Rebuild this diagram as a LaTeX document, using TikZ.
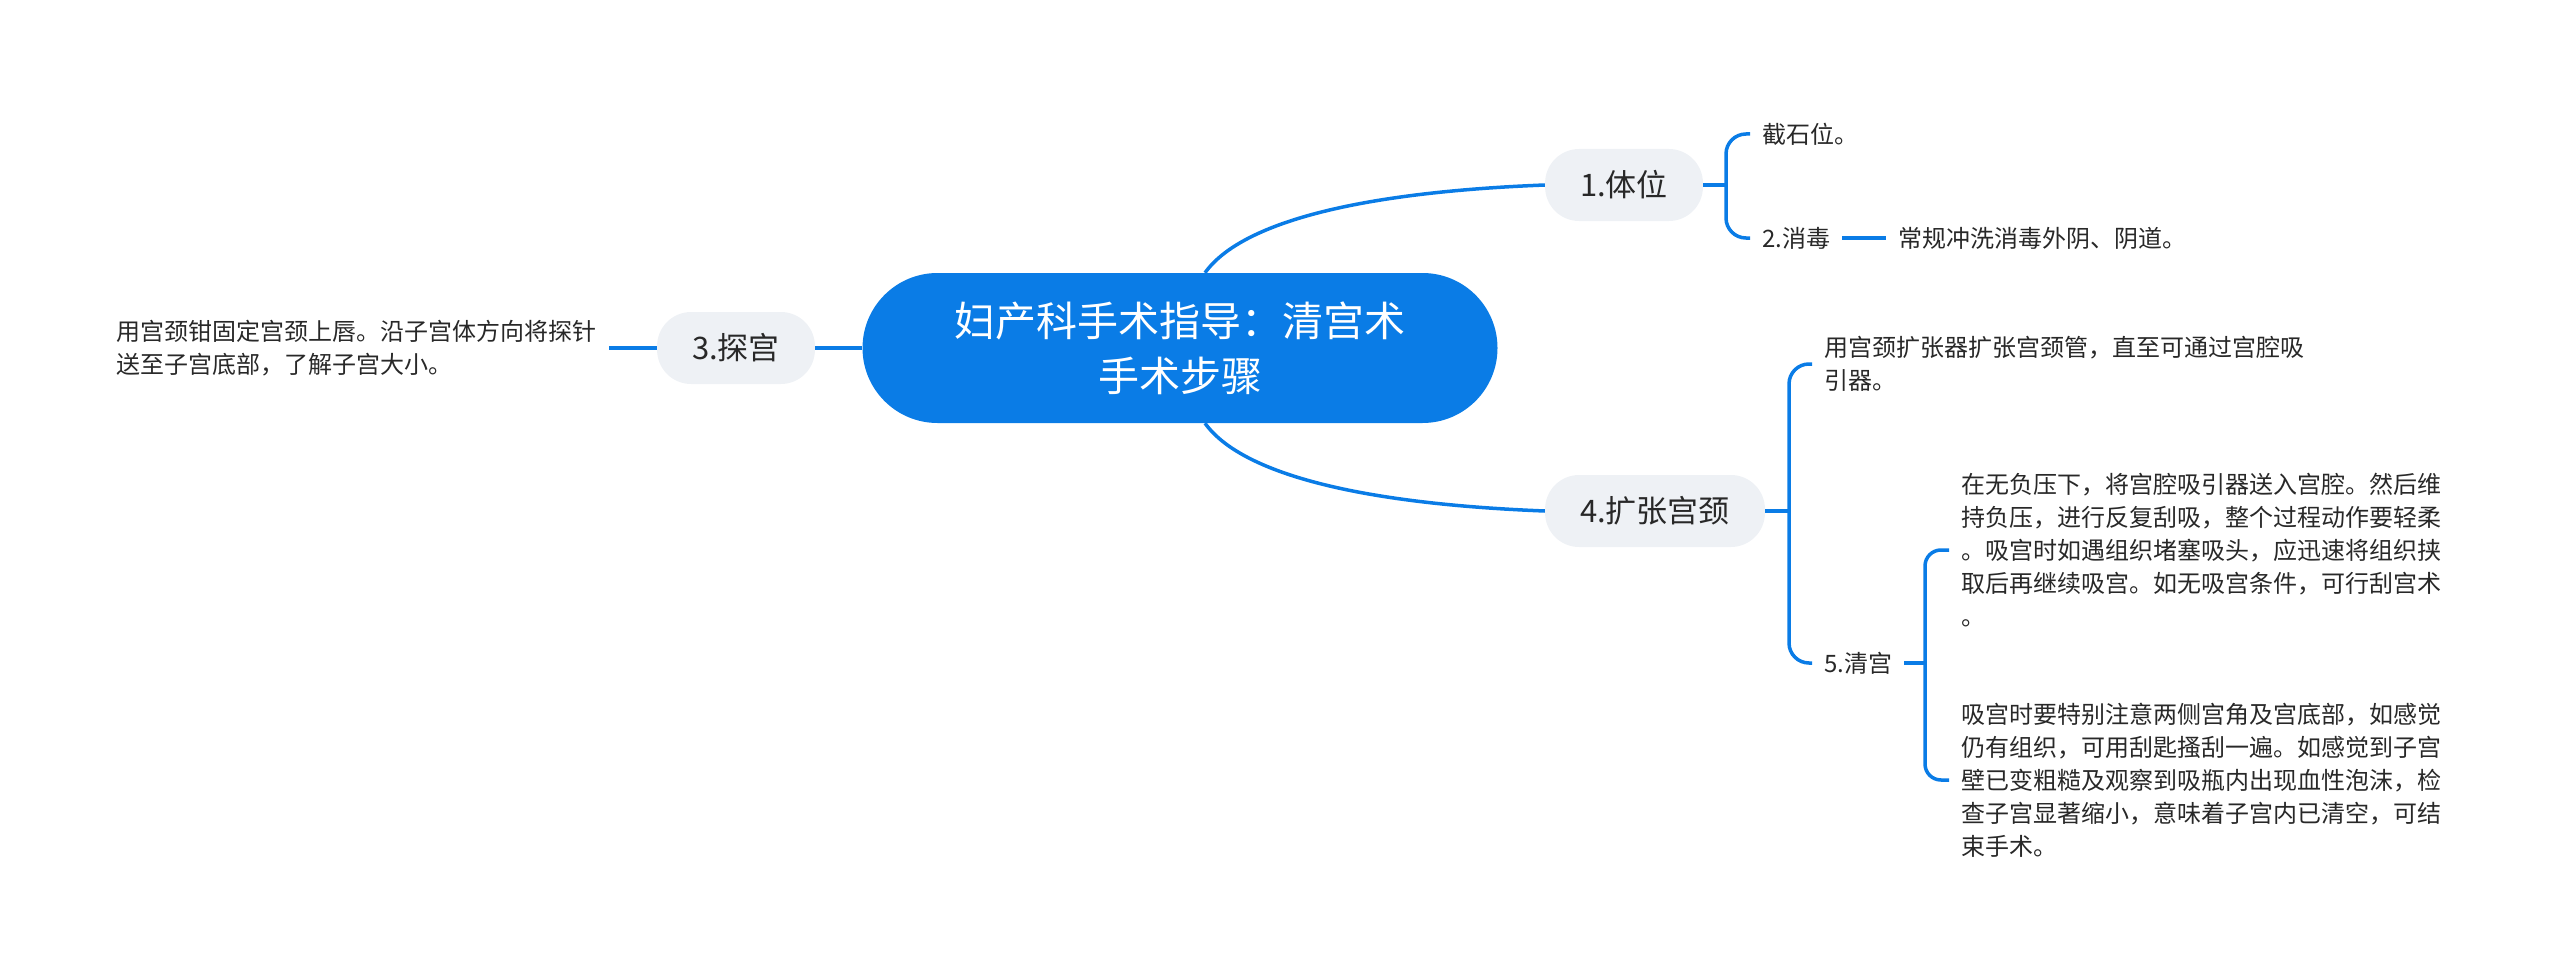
\documentclass[tikz,border=0pt]{standalone}
\usepackage{fontspec}
\setmainfont{Noto Sans CJK SC}
\usepackage{tikz}
\usetikzlibrary{positioning}

\definecolor{mapblue}{RGB}{10,124,230}
\definecolor{topicgray}{RGB}{238,241,245}
\definecolor{inkgray}{RGB}{40,40,40}

\begin{document}
\begin{tikzpicture}[x=1pt,y=-1pt]
    % one unit = one pixel of the 2560x971 sheet, y runs down
    \tikzstyle{root}=[rectangle,rounded corners=75pt,fill=mapblue,text=white,
    minimum width=635pt,minimum height=150pt,align=center,font=\fontsize{41}{55}\selectfont]
    \tikzstyle{topic}=[rectangle,rounded corners=34pt,fill=topicgray,text=inkgray,
    minimum height=72pt,inner xsep=35pt,font=\fontsize{31}{38}\selectfont]
    \tikzstyle{leaf}=[inner xsep=12pt,inner ysep=4pt,text=inkgray,align=left,
    font=\fontsize{24}{33}\selectfont]
    \tikzstyle{link}=[draw=mapblue,line width=3.5pt]

    \useasboundingbox (0,0) rectangle (2560,971);

    \node [root] (root) at (1180,348) {妇产科手术指导：清宫术\\手术步骤};

    \node [topic] (n1) at (1624,185) {1.体位};
    \node [topic] (n3) at (736,348) {3.探宫};
    \node [topic] (n4) at (1655,511) {4.扩张宫颈};

    \node [leaf,anchor=west] (l1) at (1750,134) {截石位。};
    \node [leaf,anchor=west] (l2) at (1750,238) {2.消毒};
    \node [leaf] (l2a) [right=44pt of l2] {常规冲洗消毒外阴、阴道。};
    \node [leaf] (l3) [left=48pt of n3] {用宫颈钳固定宫颈上唇。沿子宫体方向将探针\\送至子宫底部，了解子宫大小。};
    \node [leaf,anchor=west] (l4) at (1812,364) {用宫颈扩张器扩张宫颈管，直至可通过宫腔吸\\引器。};
    \node [leaf,anchor=west] (l5) at (1812,663) {5.清宫};
    \node [leaf,anchor=west] (l5a) at (1949,550) {在无负压下，将宫腔吸引器送入宫腔。然后维\\持负压，进行反复刮吸，整个过程动作要轻柔\\。吸宫时如遇组织堵塞吸头，应迅速将组织挟\\取后再继续吸宫。如无吸宫条件，可行刮宫术\\。};
    \node [leaf,anchor=west] (l5b) at (1949,780) {吸宫时要特别注意两侧宫角及宫底部，如感觉\\仍有组织，可用刮匙搔刮一遍。如感觉到子宫\\壁已变粗糙及观察到吸瓶内出现血性泡沫，检\\查子宫显著缩小，意味着子宫内已清空，可结\\束手术。};

    % main branches
    \draw [link] ([xshift=25pt]root.north) .. controls +(20,-28) and +(-255,10) .. (n1.west);
    \draw [link] ([xshift=25pt]root.south) .. controls +(20,28) and +(-255,-10) .. (n4.west);
    \draw [link] (root.west) -- (n3.east);
    \draw [link] (n3.west) -- (l3.east);

    % brackets
    \coordinate (b1) at (1726,185);
    \draw [link] (n1.east) -- (b1);
    \draw [link,rounded corners=20pt] (b1) |- (l1.west);
    \draw [link,rounded corners=20pt] (b1) |- (l2.west);
    \draw [link] (l2.east) -- (l2a.west);

    \coordinate (b4) at (1789,511);
    \draw [link] (n4.east) -- (b4);
    \draw [link,rounded corners=20pt] (b4) |- (l4.west);
    \draw [link,rounded corners=20pt] (b4) |- (l5.west);

    \coordinate (b5) at (1925,663);
    \draw [link] (l5.east) -- (b5);
    \draw [link,rounded corners=16pt] (b5) |- (l5a.west);
    \draw [link,rounded corners=16pt] (b5) |- (l5b.west);

\end{tikzpicture}
\end{document}
